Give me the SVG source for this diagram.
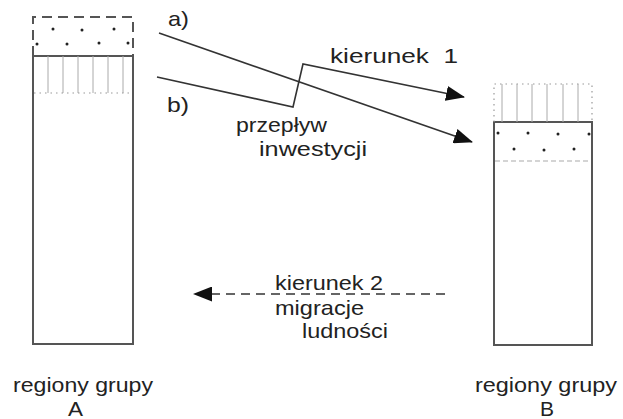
<svg xmlns="http://www.w3.org/2000/svg" width="623" height="419" viewBox="0 0 623 419">
<style>
.box{fill:none;stroke:#555;stroke-width:2}
.hatch{stroke:#aaa;stroke-width:1}
.dotline{fill:none;stroke:#999;stroke-width:1.2;stroke-dasharray:1.5 4}
.dashbox{fill:none;stroke:#555;stroke-width:2;stroke-dasharray:10 6}
.dashthin{fill:none;stroke:#aaa;stroke-width:1.2;stroke-dasharray:5 3}
.dot{fill:#222}
.flow{fill:none;stroke:#333;stroke-width:1.6}
.mig{fill:none;stroke:#333;stroke-width:1.4;stroke-dasharray:9 6}
text{font-family:"Liberation Sans",Arial,sans-serif;font-size:21px;fill:#222}
</style>
<defs>
<marker id="ah" markerWidth="19" markerHeight="15" refX="18" refY="7.5" orient="auto" markerUnits="userSpaceOnUse">
<path d="M0,0 L19,7.5 L0,15 Z" fill="#111"/>
</marker>
</defs>
<g id="regionA">
<rect class="box" x="33" y="56" width="100" height="288"/>
<path class="dashbox" d="M33,56 V17 H133 V56"/>
<g class="hatch">
<line x1="48" y1="56" x2="48" y2="93"/><line x1="63" y1="56" x2="63" y2="93"/><line x1="78" y1="56" x2="78" y2="93"/>
<line x1="93" y1="56" x2="93" y2="93"/><line x1="108" y1="56" x2="108" y2="93"/><line x1="123" y1="56" x2="123" y2="93"/>
</g>
<line class="dotline" x1="34" y1="93" x2="132" y2="93"/>
<g class="dot">
<circle cx="53" cy="29" r="1.5"/><circle cx="82" cy="30" r="1.5"/><circle cx="114" cy="29" r="1.5"/>
<circle cx="37" cy="44" r="1.5"/><circle cx="67" cy="44" r="1.5"/><circle cx="99" cy="43" r="1.5"/><circle cx="128" cy="43" r="1.5"/>
</g>
<text x="13" y="392" textLength="140" lengthAdjust="spacingAndGlyphs">regiony grupy</text>
<text x="68" y="416" textLength="15" lengthAdjust="spacingAndGlyphs">A</text>
</g>
<g id="regionB">
<rect class="box" x="494" y="122" width="98" height="223"/>
<path class="dotline" d="M494,122 V84 H592 V122"/>
<g class="hatch">
<line x1="502" y1="84" x2="502" y2="122"/><line x1="517" y1="84" x2="517" y2="122"/><line x1="532" y1="84" x2="532" y2="122"/>
<line x1="547" y1="84" x2="547" y2="122"/><line x1="563" y1="84" x2="563" y2="122"/><line x1="578" y1="84" x2="578" y2="122"/>
</g>
<line class="dashthin" x1="495" y1="161" x2="591" y2="161"/>
<g class="dot">
<circle cx="498" cy="133" r="1.5"/><circle cx="528" cy="133" r="1.5"/><circle cx="558" cy="134" r="1.5"/><circle cx="589" cy="134" r="1.5"/>
<circle cx="514" cy="149" r="1.5"/><circle cx="544" cy="150" r="1.5"/><circle cx="574" cy="149" r="1.5"/>
</g>
<text x="475" y="392" textLength="142" lengthAdjust="spacingAndGlyphs">regiony grupy</text>
<text x="540" y="416" textLength="14" lengthAdjust="spacingAndGlyphs">B</text>
</g>
<g id="connectors">
<path class="flow" d="M159,33 L472,142" marker-end="url(#ah)"/>
<path class="flow" d="M157,77 L293,107 L303,64 L464,97" marker-end="url(#ah)"/>
<path class="mig" d="M445,294 H194" marker-end="url(#ah)"/>
</g>
<g id="labels">
<text x="168" y="26" textLength="21" lengthAdjust="spacingAndGlyphs">a)</text>
<text x="167" y="112" textLength="22" lengthAdjust="spacingAndGlyphs">b)</text>
<text x="330" y="63" xml:space="preserve" textLength="128" lengthAdjust="spacingAndGlyphs">kierunek  1</text>
<text x="236" y="132" textLength="91" lengthAdjust="spacingAndGlyphs">przepływ</text>
<text x="259" y="156" textLength="108" lengthAdjust="spacingAndGlyphs">inwestycji</text>
<text x="275" y="290" textLength="108" lengthAdjust="spacingAndGlyphs">kierunek 2</text>
<text x="275" y="315" textLength="89" lengthAdjust="spacingAndGlyphs">migracje</text>
<text x="302" y="338" textLength="86" lengthAdjust="spacingAndGlyphs">ludności</text>
</g>
</svg>
